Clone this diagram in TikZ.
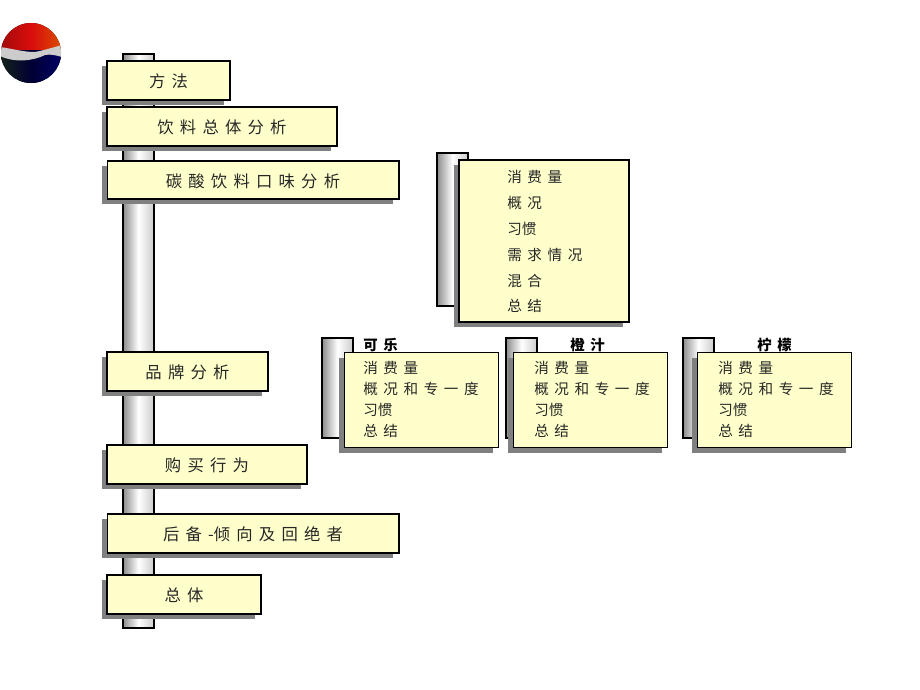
\documentclass[tikz,border=0pt]{standalone}
\usepackage{fontspec}
\setmainfont[WordSpace=1.7]{Noto Sans CJK SC}
\usetikzlibrary{shadows}
\definecolor{mpale}{rgb}{1, 1, 0.8}
\definecolor{mshadow}{rgb}{0.5, 0.5, 0.5}
\definecolor{mred}{rgb}{0.85, 0.05, 0.05}
\definecolor{morange}{rgb}{0.85, 0.3, 0}
\definecolor{mnavy}{rgb}{0, 0, 0.4}
\definecolor{mdark}{rgb}{0.08, 0.14, 0.1}
\tikzset{panel/.style = {draw=black, line width=0.6pt, fill=mpale, inner sep=0pt,
                         font=\fontsize{9.3}{11}\selectfont, text=black!85,
                         text height=8pt, text depth=0pt,
                         general shadow={fill=mshadow, shadow xshift=-0.11cm, shadow yshift=-0.1cm}}}
\tikzset{pole/.style = {draw=black, line width=0.6pt, left color=black!45, right color=black!20,
                        middle color=white}}
\tikzset{listitem/.style = {anchor=west, inner sep=0pt, font=\fontsize{8.3}{10}\selectfont,
                            text=black!85}}
\tikzset{listhead/.style = {anchor=west, inner sep=0pt, font=\fontsize{8.2}{10}\selectfont\bfseries}}
\begin{document}
\begin{tikzpicture}[x=0.02cm, y=-0.02cm]
      \useasboundingbox (0, 0) rectangle (920, 690);

      % logo
      \begin{scope}
        \clip (31, 53) circle (30);
        \fill [left color=mred!75!black, right color=morange, middle color=mred] (0, 20) rectangle (62, 60);
        \fill [left color=mdark, right color=mnavy, middle color=mnavy!50!black] (0, 50) rectangle (62, 85);
        \fill [black!20] (0, 47) .. controls (15, 49) and (30, 54) .. (40, 51)
                         .. controls (48, 49) and (55, 47) .. (62, 45)
                         -- (62, 57) .. controls (55, 55) and (50, 54) .. (45, 55)
                         .. controls (33, 61) and (15, 63) .. (0, 56) -- cycle;
      \end{scope}

      % main pole and its boxes
      \draw [pole] (123, 54) rectangle (154, 628);

      \node [panel, minimum width=2.46cm, minimum height=0.78cm] (method) at (168.5, 80.5) {方 法};
      \node [panel, minimum width=4.6cm, minimum height=0.78cm] (overall) at (222, 126.5) {饮 料 总 体 分 析};
      \node [panel, minimum width=5.84cm, minimum height=0.76cm] (flavor) at (253, 180) {碳 酸 饮 料 口 味 分 析};
      \node [panel, minimum width=3.22cm, minimum height=0.78cm] (brand) at (187.5, 371.5) {品 牌 分 析};
      \node [panel, minimum width=4cm, minimum height=0.78cm] (buying) at (207, 464.5) {购 买 行 为};
      \node [panel, minimum width=5.84cm, minimum height=0.78cm] (backup) at (253, 533.5) {后 备 -倾 向 及 回 绝 者\hspace{2pt}};
      \node [panel, minimum width=3.08cm, minimum height=0.78cm] (total) at (184, 594.5) {总 体};

      % flavor details
      \draw [pole] (437, 153) rectangle (468, 306);
      \node [panel, minimum width=3.4cm, minimum height=3.24cm] (flavorbox) at (544, 241) {};
      \foreach \txt [count=\i] in {消 费 量, 概 况, 习惯, 需 求 情 况, 混 合, 总 结}
        \node [listitem] (flavor\i) at (507, 151 + 25.9*\i) {\txt};

      % brands
      \foreach \name/\hd/\polex/\boxx/\textx/\headx in {cola/可 乐/322/344/363/363,
                                                        orange/橙 汁/506/513/534/570,
                                                        lemon/柠 檬/683/697/718/757}
      {
        \draw [pole] (\polex, 338) rectangle (\polex + 31, 438);
        \node [panel, anchor=north west, minimum width=3.08cm, minimum height=1.9cm] (\name box) at (\boxx, 352) {};
        \node [listhead] (\name head) at (\headx, 345) {\hd};
        \node [listitem] (\name1) at (\textx, 368) {消 费 量};
        \node [listitem] (\name2) at (\textx, 389) {概 况 和 专 一~度};
        \node [listitem] (\name3) at (\textx, 410) {习惯};
        \node [listitem] (\name4) at (\textx, 431) {总 结};
      }
    \end{tikzpicture}
\end{document}
